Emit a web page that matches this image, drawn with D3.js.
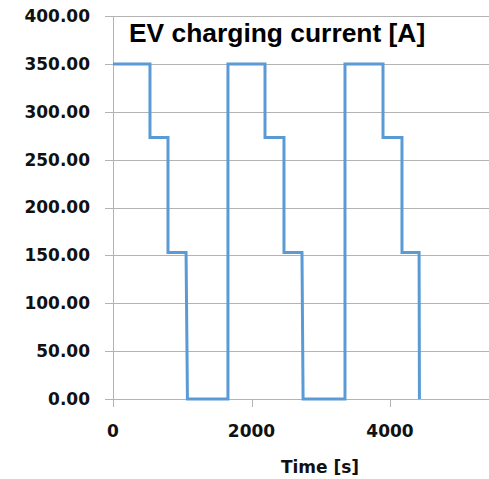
<!DOCTYPE html>
<html>
<head>
<meta charset="utf-8">
<script src="https://cdn.jsdelivr.net/npm/d3@7"></script>
<style>
  html, body { margin: 0; padding: 0; background: #fff; overflow: hidden; }
  svg { display: block; }
</style>
</head>
<body>
<svg id="chart"></svg>
<script>
// step profile of the charging current
const timeS = [0, 534, 534, 794, 794, 1055, 1075, 1660, 1660, 2195, 2195, 2469, 2469, 2729, 2745, 3350, 3350, 3899, 3899, 4173, 4173, 4420, 4425];
const currentA = [350, 350, 273, 273, 153, 153, 0, 0, 350, 350, 273, 273, 153, 153, 0, 0, 350, 350, 273, 273, 153, 153, 0];

const yTicks = [0, 50, 100, 150, 200, 250, 300, 350, 400];
const xTicks = [0, 2000, 4000];
const titleText = 'EV charging current [A]';
const xLabel = 'Time [s]';

const width = 489;
const height = 479;
const margin = { top: 16, left: 113, bottom: 80 };
const plotH = height - margin.top - margin.bottom;
const pxPerSec = 277 / 4000;

const svg = d3.select('#chart').attr('width', width).attr('height', height);

const x = d3.scaleLinear().domain([0, 6000]).range([margin.left, margin.left + 6000 * pxPerSec]);
const y = d3.scaleLinear().domain([0, 400]).range([margin.top + plotH, margin.top]);

// horizontal grid lines (they run past the right edge)
svg.append('g')
  .selectAll('line')
  .data(yTicks)
  .join('line')
  .attr('x1', margin.left - 8)
  .attr('x2', x(6000))
  .attr('y1', d => Math.round(y(d)) + 0.5)
  .attr('y2', d => Math.round(y(d)) + 0.5)
  .attr('stroke', '#b3b3b3')
  .attr('stroke-width', 1);

// y axis line
svg.append('line')
  .attr('x1', margin.left + 0.5)
  .attr('x2', margin.left + 0.5)
  .attr('y1', y(400))
  .attr('y2', y(0) + 8)
  .attr('stroke', '#b3b3b3');

// x ticks
svg.append('g')
  .selectAll('line')
  .data(xTicks)
  .join('line')
  .attr('x1', d => Math.round(x(d)) + 0.5)
  .attr('x2', d => Math.round(x(d)) + 0.5)
  .attr('y1', y(0))
  .attr('y2', y(0) + 8)
  .attr('stroke', '#b3b3b3');

// y labels
svg.append('g')
  .selectAll('text')
  .data(yTicks)
  .join('text')
  .attr('x', 90)
  .attr('y', d => y(d))
  .attr('dy', '0.35em')
  .attr('text-anchor', 'end')
  .attr('font-family', 'DejaVu Sans')
  .attr('font-weight', 'bold')
  .attr('font-size', '17px')
  .attr('fill', '#111')
  .text(d => d.toFixed(2));

// x labels
svg.append('g')
  .selectAll('text')
  .data(xTicks)
  .join('text')
  .attr('x', d => x(d))
  .attr('y', 437)
  .attr('text-anchor', 'middle')
  .attr('font-family', 'DejaVu Sans')
  .attr('font-weight', 'bold')
  .attr('font-size', '17px')
  .attr('fill', '#111')
  .text(d => d);

svg.append('text')
  .attr('x', 320)
  .attr('y', 473)
  .attr('text-anchor', 'middle')
  .attr('font-family', 'DejaVu Sans')
  .attr('font-weight', 'bold')
  .attr('font-size', '17px')
  .attr('fill', '#111')
  .text(xLabel);

// the current profile
const line = d3.line()
  .x((d, i) => x(timeS[i]))
  .y(d => y(d));

svg.append('path')
  .datum(currentA)
  .attr('fill', 'none')
  .attr('stroke', '#5b9bd5')
  .attr('stroke-width', 3)
  .attr('stroke-linejoin', 'miter')
  .attr('d', line);

// title inside the plot
svg.append('text')
  .attr('x', 129)
  .attr('y', 42)
  .attr('font-family', 'Liberation Sans, Arial, sans-serif')
  .attr('font-weight', 'bold')
  .attr('font-size', '26.4px')
  .attr('fill', '#000')
  .text(titleText);
</script>
</body>
</html>
